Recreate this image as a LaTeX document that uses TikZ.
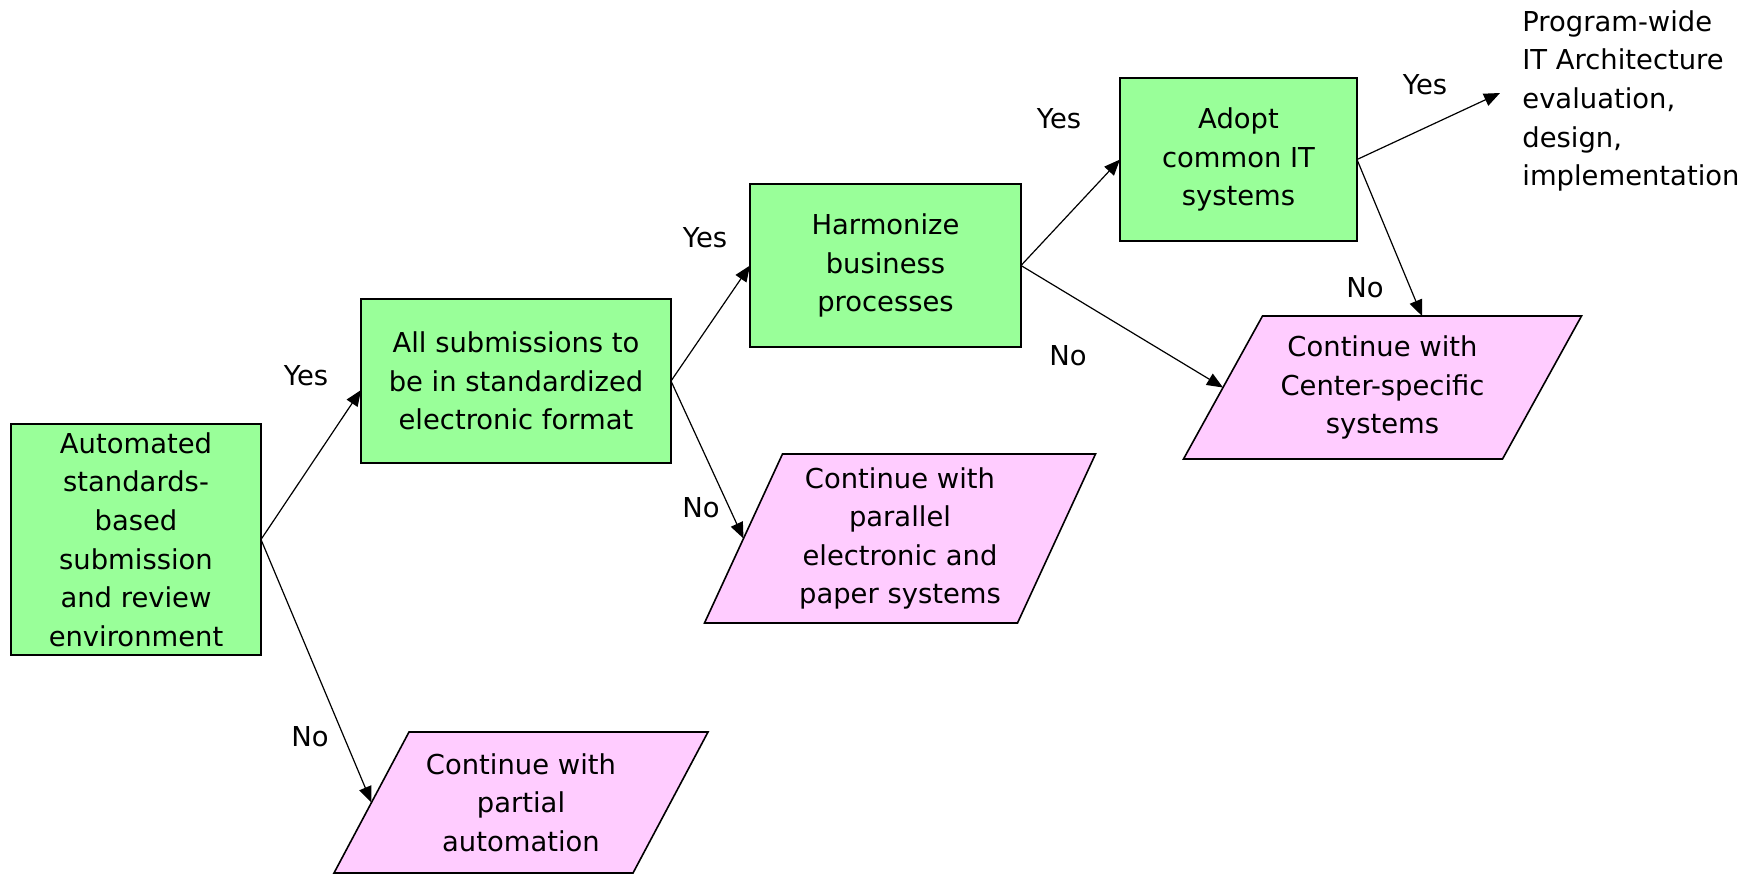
\documentclass[tikz,border=0pt]{standalone}
\usepackage{fontspec}
\setmainfont{DejaVu Sans}
\usetikzlibrary{arrows.meta,backgrounds}
\definecolor{stepgreen}{RGB}{153,255,153}
\definecolor{altpink}{RGB}{255,204,255}
\tikzset{
  txt/.style={font=\fontsize{13.7}{19.3}\selectfont, align=center},
  action/.style={txt, draw=black, fill=stepgreen, line width=0.8pt, outer sep=0pt, inner sep=0pt},
  fallback/.style={txt, draw=none, outer sep=0pt, inner sep=0pt},
  flow/.style={-{Triangle[length=8pt,width=6.5pt]}, line width=0.6pt},
  answer/.style={font=\fontsize{13.7}{16}\selectfont, inner sep=0pt},
}
% slanted (parallelogram) outline behind a fallback node; #2 = half the slant offset
\newcommand\slantfill[2]{%
  \filldraw[fill=altpink, draw=black, line width=0.8pt]
    ([xshift=#2]#1.north west) -- ([xshift=#2]#1.north east) --
    ([xshift=-#2]#1.south east) -- ([xshift=-#2]#1.south west) -- cycle;}

\begin{document}
\begin{tikzpicture}[x=0.5pt,y=-0.5pt]
\useasboundingbox (0,0) rectangle (1757,875);

% decision steps
\node[action, minimum width=125pt, minimum height=115.5pt] (auto) at (136,539.5)
  {Automated\\standards-\\based\\submission\\and review\\environment};
\node[action, minimum width=155pt, minimum height=82pt] (std) at (516,381)
  {All submissions to\\be in standardized\\electronic format};
\node[action, minimum width=135.5pt, minimum height=81.5pt] (harm) at (885.5,265.5)
  {Harmonize\\business\\processes};
\node[action, minimum width=118.5pt, minimum height=81.5pt] (adopt) at (1238.5,159.5)
  {Adopt\\common IT\\systems};

% fallback outcomes
\node[fallback, minimum width=149.5pt, minimum height=70.5pt] (partial) at (521,802.5)
  {Continue with\\partial\\automation};
\node[fallback, minimum width=156.5pt, minimum height=84.5pt] (parallel) at (900,538.5)
  {Continue with\\parallel\\electronic and\\paper systems};
\node[fallback, minimum width=159.5pt, minimum height=71.5pt] (center) at (1382.5,387.5)
  {Continue with\\Center-specific\\systems};

\begin{pgfonlayer}{background}
  \slantfill{partial}{18.75pt}
  \slantfill{parallel}{19.5pt}
  \slantfill{center}{19.75pt}
\end{pgfonlayer}

% final outcome
\node[txt, align=left, inner xsep=11pt, inner ysep=0pt, anchor=west] (arch) at (1500,101)
  {Program-wide\\IT Architecture\\evaluation,\\design,\\implementation};

% connectors
\draw[flow] (auto.east) -- ([yshift=-4.5pt]std.west);
\draw[flow] (auto.east) -- (partial.west);
\draw[flow] (std.east) -- (harm.west);
\draw[flow] (std.east) -- (parallel.west);
\draw[flow] (harm.east) -- (adopt.west);
\draw[flow] (harm.east) -- (center.west);
\draw[flow] (adopt.east) -- ([yshift=4pt]arch.west);
\draw[flow] (adopt.east) -- ([xshift=19.75pt]center.north);

% answers
\node[answer] (yes1) at (306,376) {Yes};
\node[answer] (no1) at (310,737) {No};
\node[answer] (yes2) at (705,238) {Yes};
\node[answer] (no2) at (701,508) {No};
\node[answer] (yes3) at (1059,119) {Yes};
\node[answer] (no3) at (1068,356) {No};
\node[answer] (yes4) at (1425,85) {Yes};
\node[answer] (no4) at (1365,288) {No};
\end{tikzpicture}
\end{document}
